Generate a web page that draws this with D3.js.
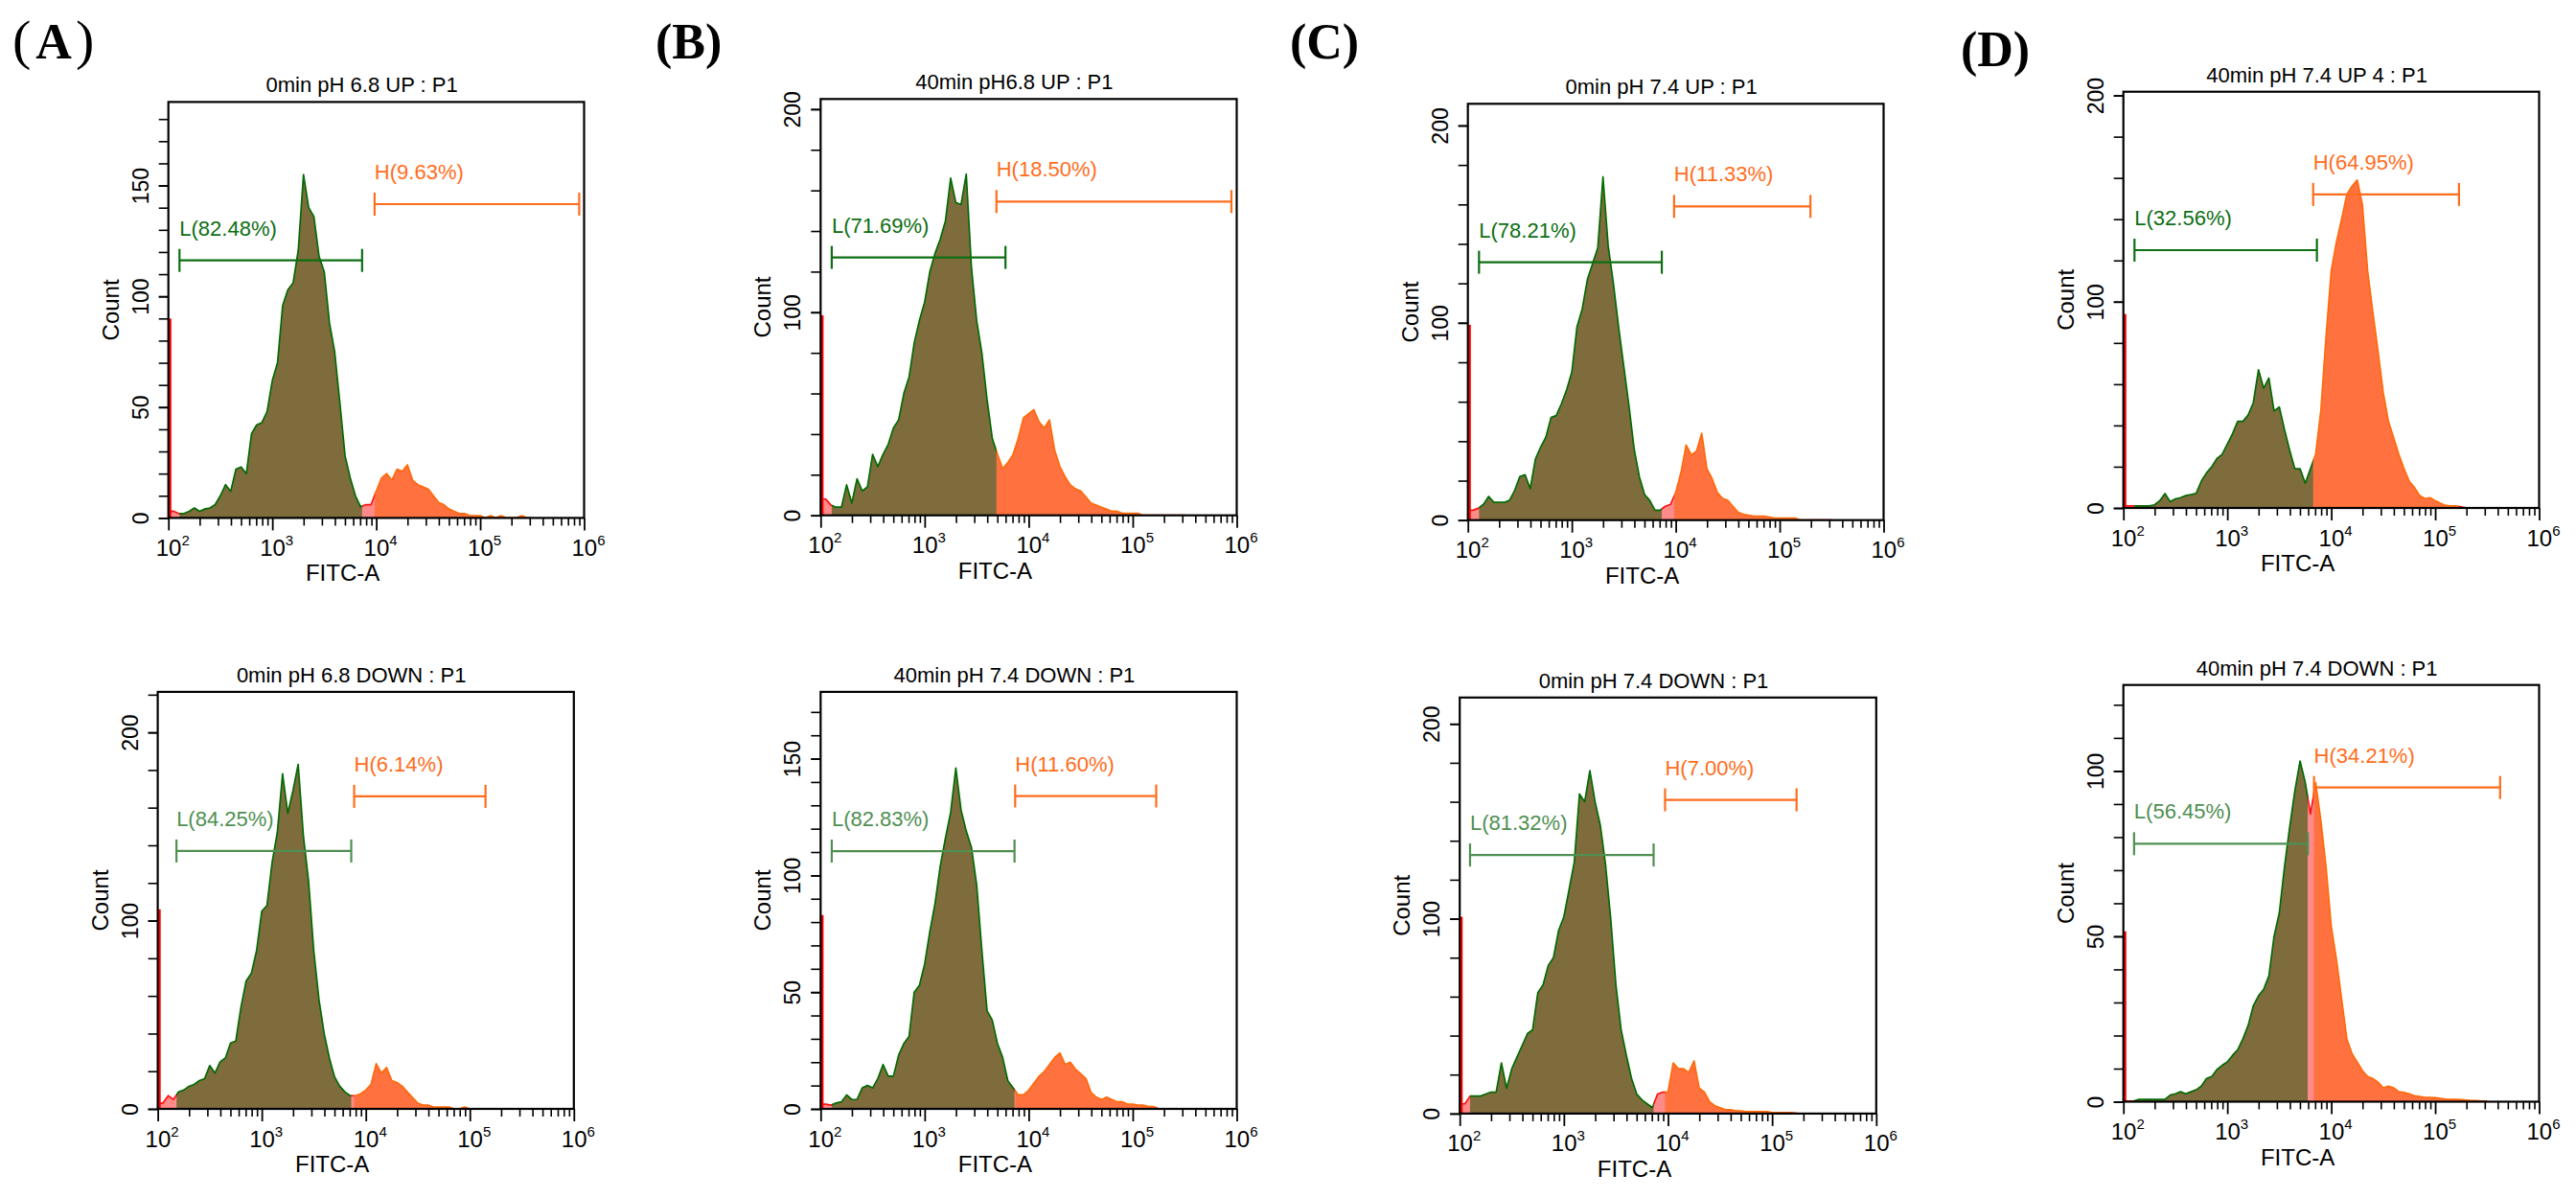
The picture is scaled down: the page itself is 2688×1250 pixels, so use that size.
<!DOCTYPE html>
<html><head><meta charset="utf-8">
<script src="https://cdn.jsdelivr.net/npm/d3@7"></script>
<style>
body{margin:0;background:#fff;}
svg{display:block;background:#fff;}
</style></head><body>
<svg id="chart" width="2688" height="1250" font-family="Liberation Sans, Arial, sans-serif"></svg>
<script>
// ---------------- DATA ----------------
// channel positions (log10 of FITC-A intensity)
const channelLog = [2.00,2.05,2.10,2.15,2.20,2.25,2.30,2.35,2.40,2.45,2.50,2.55,2.60,2.65,2.70,2.75,2.80,2.85,2.90,2.95,3.00,3.05,3.10,3.15,3.20,3.25,3.30,3.35,3.40,3.45,3.50,3.55,3.60,3.65,3.70,3.75,3.80,3.85,3.90,3.95,4.00,4.05,4.10,4.15,4.20,4.25,4.30,4.35,4.40,4.45,4.50,4.55,4.60,4.65,4.70,4.75,4.80,4.85,4.90,4.95,5.00,5.05,5.10,5.15,5.20,5.25,5.30,5.35,5.40,5.45,5.50];

const countsAUp = [3,3,2,2,3,4.5,3,4,4.5,6, 10,15,12,22,23,20,38,42,43,48, 62,70,96,103,106,121,155,140,136,118, 111,88,75,52,28,18,10,5,6,6, 12,18,20,17,22,21,24,17,15,14, 13,10,7,6,4,3,2,2,1,1, 1,0,1,0,1,0,0,0,1,0,0];
const countsADown = [3,3,7,5,9,10,12,13,15,16, 23,19,25,27,35,36,54,68,72,84, 105,108,131,147,178,157,169,183,145,121, 84,58,40,27,17,12,9,7,7,8, 10,13,24,19,22,15,14,12,9,6, 3,2,2,1,1,1,1,0,0,1, 0,0,0,0,0,0,0,0,0,0,0];
const countsBUp = [8,8,5,4,4,15,6,18,12,14, 30,24,30,35,43,47,60,68,85,96, 105,120,129,136,145,166,154,153,168,122, 96,80,57,38,30,23,26,30,38,48, 50,52,46,43,47,32,24,19,15,13, 12,9,6,5,4,3,2,2,1,1, 1,1,0,0,0,0,0,0,0,0,0];
const countsBDown = [2,2,1.6,2.5,3,6,4,4,9,10, 9,13,19,14,14,23,28,31,50,53, 62,76,88,104,116,127,146,128,119,112, 96,68,42,38,28,22,12,9,6,6, 8,11,14,16,19,22,24,19,20,17, 15,13,7,5,4,5,4,3,3,2, 2,1.6,1.6,1,1,0,0,0,0,0,0];
const countsCUp = [5,5,6,8,12,9,9,9,10,15, 22,23,16,31,37,42,52,53,59,66, 75,98,107,122,130,138,174,139,120,98, 78,58,36,22,13,10,5,5,7,8, 14,24,38,33,35,44,26,21,14,11, 10,7,4,3,2.5,2,2,2,1.5,1, 1,1,1,1,0,0,0,0,0,0,0];
const countsCDown = [5,5,9,9,9,10,11,11,26,13, 23,29,35,41,43,62,66,76,80,94, 101,115,129,164,160,176,160,148,128,100, 66,43,30,18,10,7,5,3,10,11, 11,26,23,23,21,27,13,11,6,4, 3,2,2,1.4,1.4,1,1,1,1,1, 0.5,0.5,0.5,0.5,0.5,0,0,0,0,0,0];
const countsDUp = [1,1,1,1,1,1,1.5,3.5,7,3, 4.4,5,6,6.5,7,13,17,20,24,26, 31,36,42,42,45,51,67,58,63,47, 49,38,28,19,19,12,19,26,47,83, 115,129,140,152,156,159,147,115,95,76, 56,42,34,26,19,13,10,6,4.5,5, 3.5,2.3,1.2,1,1,0.5,0,0,0,0,0];
const countsDDown = [0.2,0.2,0.2,0.7,0.7,0.7,0.7,0.7,0.7,2, 2.4,3,2.4,3,3.6,4.7,7,7.6,9.7,11, 12,14,15.7,19,23,29,32,34,38,50, 57,71,83,94,103,96.5,87,96.5,85,71, 53,43,31,19,14.5,12,9.4,7.6,7,5.9, 4.2,4.7,4.2,3,2.8,2.4,1.8,1.6,1.3,1.3, 1.2,1,0.8,0.7,0.7,0.6,0.5,0.3,0.3,0.2,0.2];

// order: A up, A down, B up, B down, C up, C down, D up, D down
const panelTitles = ["0min pH 6.8 UP : P1","0min pH 6.8 DOWN : P1","40min pH6.8 UP : P1","40min pH 7.4 DOWN : P1","0min pH 7.4 UP : P1","0min pH 7.4 DOWN : P1","40min pH 7.4 UP 4 : P1","40min pH 7.4 DOWN : P1"];
const panelCounts = [countsAUp,countsADown,countsBUp,countsBDown,countsCUp,countsCDown,countsDUp,countsDDown];
const spikeCounts = [90,106,98.5,83,99,101,94,51.5];      // events piled on the 10^2 edge
const yMax = [187.7,221.5,205,178.6,211,213.5,201.8,126];
const yMajorTicks = [[0,50,100,150],[0,100,200],[0,100,200],[0,50,100,150],[0,100,200],[0,100,200],[0,100,200],[0,50,100]];
const yMinorStep = [10,20,20,10,20,20,20,10];
// gates: [log10 start, log10 end, count level]
const gateL = [[2.107,3.864,116.2],[2.18,3.86,137],[2.107,3.777,127],[2.107,3.864,110.4],[2.107,3.866,130.7],[2.099,3.862,132.7],[2.107,3.862,125],[2.103,3.775,78]];
const gateH = [[3.984,5.953,141.6],[3.888,5.151,166],[3.69,5.949,154.5],[3.87,5.226,134],[3.984,5.296,159],[3.972,5.235,161],[3.826,5.229,152],[3.834,5.625,95]];
const gateLLabels = ["L(82.48%)","L(84.25%)","L(71.69%)","L(82.83%)","L(78.21%)","L(81.32%)","L(32.56%)","L(56.45%)"];
const gateHLabels = ["H(9.63%)","H(6.14%)","H(18.50%)","H(11.60%)","H(11.33%)","H(7.00%)","H(64.95%)","H(34.21%)"];
const xDecades = [1e2,1e3,1e4,1e5,1e6];
const xExponents = ["2","3","4","5","6"];
const minorFactors = [2,3,4,5,6,7,8,9];
const panelLetters = ["A","B","C","D"];
const xAxisTitle = "FITC-A";
const yAxisTitle = "Count";

// ---------------- LAYOUT / STYLE ----------------
const plotBoxes = [
  {l:175.7,r:609.5,t:106.4,b:540.4},
  {l:164.6,r:598.8,t:721.9,b:1157},
  {l:856.3,r:1290.5,t:103.3,b:537.7},
  {l:856.3,r:1290.5,t:721.9,b:1157},
  {l:1531.7,r:1965.5,t:108.3,b:542.7},
  {l:1523.2,r:1957.8,t:727.8,b:1161.9},
  {l:2215.7,r:2649.5,t:95.7,b:530},
  {l:2215.7,r:2649.5,t:714.7,b:1149.5}
];
const letterPos = [{x:13,y:61},{x:684,y:61},{x:1346,y:61},{x:2046,y:69}];
const fills = {pink:"#ff8a8a", olive:"#7f6c3c", orange:"#ff7240"};
const strokes = {pink:"#ff1010", olive:"#046a04", orange:"#ff6a0a"};
const gateLColorTop = "#0d6e12", gateLColorBottom = "#4f8f52", gateHColor = "#ff6d1c";
const sansFont = "Liberation Sans, Arial, sans-serif";
const serifFont = "Liberation Serif, Times New Roman, serif";

const svg = d3.select("#chart");
const defs = svg.append("defs");

panelCounts.forEach((counts, i) => {
  const box = plotBoxes[i];
  const xs = d3.scaleLog().domain([1e2, 1e6]).range([box.l, box.r]);
  const ys = d3.scaleLinear().domain([0, yMax[i]]).range([box.b, box.t]);
  const g = svg.append("g");
  const pts = channelLog.map((v, k) => ({x: Math.pow(10, v), c: counts[k]}));
  const area = d3.area().x(d => xs(d.x)).y0(box.b).y1(d => ys(d.c));
  const line = d3.line().x(d => xs(d.x)).y(d => ys(d.c));

  const Ls = gateL[i][0], Le = Math.min(gateL[i][1], gateH[i][0]);
  const Hs = gateH[i][0], He = gateH[i][1];
  const regions = [[2, Ls, "pink"], [Ls, Le, "olive"], [Le, Hs, "pink"], [Hs, He, "orange"], [He, 6, "pink"]]
    .filter(r => r[1] > r[0]);
  regions.forEach((r, j) => {
    const id = `clip-${i}-${j}`;
    const x0 = xs(Math.pow(10, r[0])), x1 = xs(Math.pow(10, r[1]));
    defs.append("clipPath").attr("id", id).append("rect")
      .attr("x", x0).attr("width", Math.max(0, x1 - x0 + 0.5))
      .attr("y", box.t - 2).attr("height", box.b - box.t + 2);
    const rg = g.append("g").attr("clip-path", `url(#${id})`);
    rg.append("path").datum(pts).attr("d", area).attr("fill", fills[r[2]]);
    rg.append("path").datum(pts).attr("d", line).attr("fill", "none")
      .attr("stroke", strokes[r[2]]).attr("stroke-width", 1.7).attr("stroke-linejoin", "round");
  });

  // red spike at the low edge
  g.append("rect").attr("x", xs(1e2) + 0.5).attr("width", 2.6)
    .attr("y", ys(spikeCounts[i])).attr("height", box.b - ys(spikeCounts[i]))
    .attr("fill", "#ff0000");

  // axes
  const xMinorVals = [];
  [1e2, 1e3, 1e4, 1e5].forEach(dec => minorFactors.forEach(f => xMinorVals.push(dec * f)));
  g.append("g").attr("transform", `translate(0,${box.b})`)
    .call(d3.axisBottom(xs).tickValues(xMinorVals).tickSize(8).tickFormat(""))
    .call(a => a.select(".domain").remove())
    .call(a => a.selectAll("line").attr("stroke", "#000").attr("stroke-width", 1.6));
  const xa = g.append("g").attr("transform", `translate(0,${box.b})`)
    .call(d3.axisBottom(xs).tickValues(xDecades).tickSize(13).tickFormat(() => ""))
    .call(a => a.select(".domain").remove())
    .call(a => a.selectAll("line").attr("stroke", "#000").attr("stroke-width", 1.8));
  xa.attr("font-family", sansFont);
  xa.selectAll(".tick text").each(function(d, k) {
    const t = d3.select(this).attr("y", 39.5).attr("dy", null).attr("x", -13.5)
      .attr("text-anchor", "start").attr("fill", "#000").attr("font-size", 24);
    t.append("tspan").text("10");
    t.append("tspan").attr("dy", -11).attr("font-size", 15).text(xExponents[k]);
  });

  const yMinorVals = d3.range(0, yMax[i], yMinorStep[i]);
  g.append("g").attr("transform", `translate(${box.l},0)`)
    .call(d3.axisLeft(ys).tickValues(yMinorVals).tickSize(10).tickFormat(""))
    .call(a => a.select(".domain").remove())
    .call(a => a.selectAll("line").attr("stroke", "#000").attr("stroke-width", 1.6));
  const ya = g.append("g").attr("transform", `translate(${box.l},0)`)
    .call(d3.axisLeft(ys).tickValues(yMajorTicks[i]).tickSize(10).tickFormat(d3.format("d")))
    .call(a => a.select(".domain").remove())
    .call(a => a.selectAll("line").attr("stroke", "#000").attr("stroke-width", 1.8));
  ya.attr("font-family", sansFont);
  ya.selectAll(".tick text")
    .attr("x", null).attr("dy", null)
    .attr("transform", "translate(-21,0) rotate(-90)")
    .attr("text-anchor", "middle").attr("fill", "#000").attr("font-size", 23);

  // frame
  g.append("rect").attr("x", box.l).attr("y", box.t)
    .attr("width", box.r - box.l).attr("height", box.b - box.t)
    .attr("fill", "none").attr("stroke", "#000").attr("stroke-width", 2.2);

  // gates
  const isBottom = i % 2 === 1;
  const gates = [
    {g: gateL[i], label: gateLLabels[i], color: isBottom ? gateLColorBottom : gateLColorTop},
    {g: gateH[i], label: gateHLabels[i], color: gateHColor}
  ];
  gates.forEach(gt => {
    const gx0 = xs(Math.pow(10, gt.g[0])), gx1 = xs(Math.pow(10, gt.g[1])), gy = ys(gt.g[2]);
    const gg = g.append("g").attr("stroke", gt.color).attr("stroke-width", 2.2);
    gg.append("line").attr("x1", gx0).attr("x2", gx1).attr("y1", gy).attr("y2", gy);
    gg.append("line").attr("x1", gx0).attr("x2", gx0).attr("y1", gy - 12).attr("y2", gy + 12);
    gg.append("line").attr("x1", gx1).attr("x2", gx1).attr("y1", gy - 12).attr("y2", gy + 12);
    g.append("text").attr("x", gx0).attr("y", gy - 26).attr("fill", gt.color)
      .attr("font-size", 22).text(gt.label);
  });

  // titles
  const cx = (box.l + box.r) / 2;
  g.append("text").attr("x", cx - 15).attr("y", box.t - 10).attr("text-anchor", "middle")
    .attr("font-size", 22).attr("fill", "#000").text(panelTitles[i]);
  g.append("text").attr("x", cx - 35).attr("y", box.b + 66).attr("text-anchor", "middle")
    .attr("font-size", 24).attr("fill", "#000").text(xAxisTitle);
  g.append("text").attr("transform", `translate(${box.l - 52},${(box.t + box.b) / 2}) rotate(-90)`)
    .attr("text-anchor", "middle").attr("font-size", 24).attr("fill", "#000").text(yAxisTitle);
});

// panel letters
panelLetters.forEach((L, k) => {
  const t = svg.append("text").attr("x", letterPos[k].x).attr("y", letterPos[k].y)
    .attr("font-family", serifFont)
    .attr("font-size", 52).attr("font-weight", "bold").attr("fill", "#000");
  if (k === 0) {
    t.append("tspan").attr("font-weight", "normal").attr("font-size", 58).text("(");
    t.append("tspan").attr("dx", 5).text(L);
    t.append("tspan").attr("dx", 4).attr("font-weight", "normal").attr("font-size", 58).text(")");
  } else {
    t.text(`(${L})`);
  }
});
</script>
</body></html>
